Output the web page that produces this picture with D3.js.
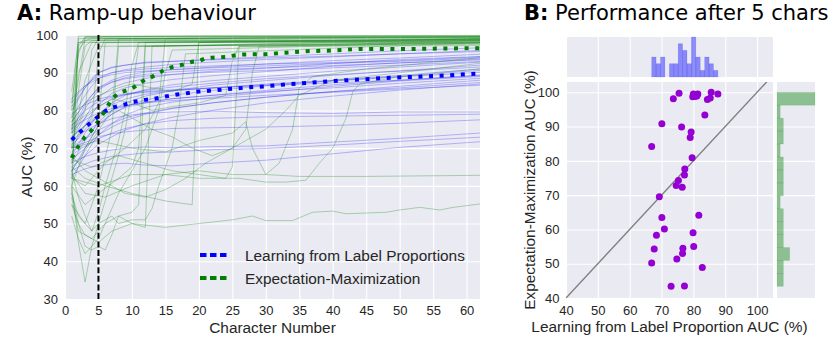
<!DOCTYPE html>
<html>
<head>
<meta charset="utf-8">
<script src="https://cdn.jsdelivr.net/npm/d3@7"></script>
<style>
  body { margin: 0; background: #fff; }
  text { font-family: "Liberation Sans", Arial, sans-serif; fill: #262626; }
  .title { font-family: "DejaVu Sans", sans-serif; font-size: 21px; fill: #000; }
</style>
</head>
<body>
<div id="chart"></div>
<script>
// ---- panel A data: AUC (%) per character number ----
const llpX = [1, 2, 3, 4, 5, 7, 9, 12, 16, 22, 30, 40, 50, 62];
const llpCurves = [
  [80, 83, 86, 88.5, 90, 91.5, 92, 92.8, 93, 93.6, 94.2, 95, 95.8, 96.6],
  [78, 81, 84, 86.5, 88.5, 90, 90.8, 91.5, 92.2, 92.8, 93.5, 94.2, 95, 95.6],
  [75, 78, 81.5, 84, 86, 88, 89.2, 90.2, 90.8, 91.5, 92.3, 93.2, 93.9, 94.9],
  [72, 75, 78, 81, 83.5, 86, 87.3, 88.5, 89.5, 90.4, 91.2, 92.4, 93.5, 94.3],
  [70, 73, 76, 79, 81.5, 84.5, 86, 87.2, 88.2, 89.2, 90.3, 91.7, 92.6, 93.6],
  [83, 85, 86.5, 87.5, 88.5, 89.5, 90, 90.4, 90.8, 91.3, 91.8, 92.5, 93, 93.9],
  [68, 71, 74, 76.5, 79, 82, 84, 85.5, 86.8, 87.9, 89, 90.4, 91.5, 92.8],
  [66, 69, 72, 74.5, 77, 80, 82, 83.8, 85.2, 86.7, 87.9, 89.3, 90.5, 92],
  [74, 76, 78, 79.5, 81, 83, 84.2, 85.3, 86.2, 87.2, 88.4, 89.5, 90.4, 91.5],
  [71, 72.5, 75, 77, 79, 81.5, 83, 84.3, 85.2, 86, 87, 88, 89.3, 91],
  [64, 67, 70, 73, 76, 79, 81, 82.8, 84, 85.3, 86.5, 87.9, 89, 90.6],
  [76, 78, 80, 81.2, 82.3, 83.5, 84.2, 84.8, 85.3, 85.9, 86.8, 87.8, 88.9, 90.1],
  [69, 70.5, 72.5, 74.5, 76.5, 79, 80.8, 82, 83.1, 84, 85.3, 86.8, 88, 89.4],
  [62, 65, 68, 71, 73.5, 76.5, 78.8, 80.8, 82.2, 83.5, 84.8, 86.4, 87.8, 89],
  [73, 74.5, 76, 77, 78.3, 80, 81.2, 82.2, 83.1, 84, 85, 86, 87.2, 88.5],
  [67, 68.5, 70, 71.8, 73.5, 75.6, 77.3, 79, 80.5, 82, 83.5, 85, 86.4, 88],
  [79, 80.5, 81.5, 82.2, 83, 83.8, 84.4, 85, 85.5, 86, 86.6, 87.3, 88, 89.2],
  [70, 71.5, 72.5, 73.5, 74.8, 76.5, 78, 79.3, 80.6, 82, 83.5, 85, 86, 87.4],
  [65, 66.5, 68, 69.5, 71, 73, 74.8, 76.5, 78.2, 80, 82, 83.8, 85.4, 87],
  [77, 79.5, 82, 84, 86, 87.5, 88.4, 89.1, 89.6, 90.1, 90.6, 91.3, 92, 93],
  [81, 83.5, 86, 88, 90, 91.3, 92, 92.6, 93, 93.4, 93.9, 94.4, 95, 95.9],
  [74, 77, 80.5, 83, 85.5, 87.5, 88.7, 89.6, 90.2, 90.8, 91.3, 91.9, 92.6, 93.4],
  [72, 73.5, 74.5, 75.5, 76.5, 77.8, 78.6, 79.2, 79.6, 79.8, 79.4, 79.2, 79.6, 79.6],
  [68, 69.5, 70.5, 71.5, 72.5, 74, 75.2, 76.4, 77.3, 77.9, 78.3, 78.5, 78.7, 79],
  [70, 70.8, 71.5, 72.2, 73, 73.8, 74.3, 74.8, 75.2, 75.4, 75.6, 76, 76.6, 77.5],
  [66, 67, 67.8, 68.3, 68.8, 69.5, 70, 70.3, 70.1, 70.4, 70.6, 71.6, 72.6, 74],
  [64, 65, 65.8, 66.5, 67, 67.8, 68.2, 68.7, 69, 69.6, 69.9, 70.8, 71.8, 72.9],
  [63, 63.8, 64.5, 65, 65.3, 65.8, 66, 65.5, 65.3, 66, 66.8, 68.5, 70.2, 71.7],
  [75, 76.5, 77.5, 78.5, 79.3, 80.5, 81.3, 82, 82.6, 83.2, 84, 84.8, 85.7, 86.7],
  [82, 84.5, 86.5, 88, 89, 90, 90.5, 91, 91.4, 91.8, 92.3, 92.7, 93.2, 94.2]
];

// EM curves as [character, AUC] pairs (they jump, so each keeps its own points)
const emCurves = [
  [[1, 58], [2, 99], [6, 99.5], [20, 99.8], [62, 99.9]],
  [[1, 62], [2, 97], [3, 99.5], [30, 99.6], [62, 99.6]],
  [[1, 70], [2, 98], [4, 99], [30, 99.3], [62, 99.2]],
  [[1, 75], [2, 96], [3, 98.5], [40, 98.9], [62, 98.8]],
  [[1, 80], [2, 99.7], [62, 99.8]],
  [[1, 66], [2, 85], [3, 97], [4, 98.5], [62, 98.5]],
  [[1, 72], [3, 80], [4, 96], [5, 99], [62, 99.4]],
  [[1, 68], [2, 74], [4, 78], [5, 95], [6, 99], [62, 99.6]],
  [[1, 60], [3, 70], [5, 76], [6, 98], [62, 98.2]],
  [[1, 78], [2, 88], [3, 99], [62, 97.8]],
  [[1, 64], [4, 72], [7, 80], [8, 99], [62, 99.5]],
  [[1, 55], [3, 50], [5, 60], [7, 75], [8, 97], [62, 98]],
  [[1, 82], [2, 95], [3, 99.5], [62, 99.7]],
  [[1, 74], [2, 90], [4, 98], [62, 98.6]],
  [[1, 70], [3, 88], [5, 97], [30, 97.3], [62, 97.5]],
  [[1, 85], [2, 98], [62, 98.9]],
  [[1, 60], [3, 55], [5, 58], [8, 62], [10, 65], [11, 70], [12, 98], [62, 98.8]],
  [[1, 57], [2, 48], [4, 46], [6, 50], [8, 52], [10, 50], [12, 49], [13, 97], [62, 99]],
  [[1, 62], [3, 60], [6, 66], [9, 70], [12, 75], [14, 82], [15, 99], [62, 99.3]],
  [[1, 65], [3, 62], [6, 60], [10, 58], [15, 56], [19, 55], [20, 98], [62, 98.4]],
  [[1, 67], [4, 65], [8, 68], [12, 66], [16, 64], [20, 63], [24, 62], [25, 65], [26, 97], [62, 97.8]],
  [[1, 70], [5, 72], [10, 70], [15, 69], [20, 72], [25, 74], [27, 77], [28, 70], [30, 63], [32, 66], [34, 75], [35, 86], [37, 89], [45, 91], [62, 94]],
  [[1, 62], [5, 60], [10, 63], [15, 63], [20, 62], [26, 62], [30, 61], [33, 61], [36, 61.5], [38, 66], [40, 70], [42, 78], [43, 85], [44, 87], [50, 89], [62, 91]],
  [[1, 58], [2, 50], [3, 47], [5, 45], [7, 48], [10, 50], [15, 49], [20, 50], [25, 51], [28, 52], [30, 50.8], [34, 50.8], [37, 53], [40, 53.3], [42, 52.6], [45, 52.8], [48, 53], [50, 53.6], [53, 54.3], [56, 53.6], [58, 54.3], [62, 55.2]],
  [[1, 63], [3, 58], [6, 57], [10, 60], [15, 63], [20, 64], [25, 63], [30, 63], [35, 62.5], [45, 62.5], [62, 62.8]],
  [[1, 60], [2, 45], [3, 34.5], [4, 44], [5, 50], [6, 56], [7, 62], [8, 68], [9, 75], [10, 85], [11, 97], [62, 98]],
  [[1, 55], [2, 50], [3, 44], [4, 43], [5, 44], [6, 43], [7, 47], [8, 52], [10, 53], [11, 55], [12, 97], [62, 98.6]],
  [[1, 58], [2, 52], [4, 48], [5, 50], [7, 52], [8, 50], [10, 51], [12, 51], [13, 54], [14, 60], [16, 70], [17, 80], [18, 95], [62, 98]],
  [[1, 52], [2, 46], [3, 42], [5, 46], [6, 50], [8, 58], [10, 64], [12, 70], [14, 80], [15, 90], [16, 96], [62, 98.2]],
  [[1, 73], [3, 76], [5, 79], [8, 80], [10, 78], [13, 75], [16, 73], [19, 70], [22, 68], [25, 70], [27, 75], [28, 90], [29, 97], [62, 98.5]],
  [[1, 77], [3, 82], [5, 84], [8, 86], [10, 87], [13, 86], [16, 85], [19, 87], [20, 98], [62, 99]],
  [[1, 76], [4, 80], [7, 83], [10, 82], [13, 80], [16, 81], [20, 82], [24, 84], [25, 93], [26, 97], [62, 97.2]],
  [[1, 68], [3, 64], [5, 62], [7, 60], [9, 58], [12, 57], [15, 59], [18, 62], [21, 66], [24, 69], [27, 72], [30, 75], [33, 80], [35, 84], [40, 88], [50, 90], [62, 92.5]],
  [[1, 64], [2, 57], [3, 52], [4, 48], [5, 53], [6, 60], [7, 66], [8, 72], [9, 80], [10, 92], [11, 98], [62, 99.1]]
];

// mean curves
const meanX = [1, 2, 3, 4, 5, 6, 7, 8, 9, 10, 11, 12, 13, 14, 15, 16, 17, 18, 19, 20, 21, 22, 24, 26, 28, 30, 33, 36, 40, 44, 48, 52, 56, 60, 62];
const llpMean = [72.2, 73.9, 75.5, 77, 78.4, 79.8, 80.7, 81.2, 81.6, 82.2, 82.5, 82.8, 83, 83.3, 83.7, 84, 84.3, 84.5, 84.8, 85, 85.1, 85.3, 85.6, 85.9, 86.2, 86.4, 86.9, 87.3, 87.8, 88.2, 88.6, 88.9, 89.2, 89.6, 89.8];
const emMean = [67.4, 70.5, 73, 74.8, 77.2, 80, 83, 84.6, 85.2, 85.8, 87, 88.2, 88.9, 89.9, 90.9, 91.5, 91.9, 92.3, 92.9, 93.1, 93.8, 94, 94.2, 94.8, 94.9, 94.9, 95.3, 95.7, 95.9, 96.3, 96.3, 96.3, 96.4, 96.5, 96.5];

const xTicksA = d3.range(0, 61, 5);
const yTicksA = d3.range(30, 101, 10);
const cutoffChar = 5;
const legendLabels = ["Learning from Label Proportions", "Expectation-Maximization"];

// ---- panel B data: AUC after 5 characters ----
const llpAuc5 = [73.7, 75.5, 80.0, 79.8, 80.8, 81.4, 81.1, 80.5, 85.6, 84.4, 85.3, 87.7, 83.6, 70.1, 76.3, 79.3, 79.0, 66.9, 79.6, 77.3, 77.2, 75.3, 74.6, 76.5, 69.3, 70.1, 81.7, 70.9, 68.4, 79.9, 67.7, 76.7, 80.1, 76.6, 74.8, 66.9, 82.8, 73.0, 77.2];
const emAuc5 = [98.1, 99.7, 99.5, 98.7, 99.3, 99.5, 98.9, 98.8, 100, 97.9, 98.3, 99.5, 93.4, 90.8, 89.9, 88.4, 86.8, 84.2, 80.9, 77.6, 75.9, 74.3, 72.8, 72.3, 69.5, 63.5, 64.1, 60.1, 58.3, 59.0, 54.3, 54.5, 55.0, 53.0, 51.4, 50.2, 48.9, 43.4, 43.5];
const llpHistRange = [66.9, 87.7];
const llpHistCounts = [3, 2, 3, 0, 2, 2, 5, 4, 2, 6, 3, 1, 3, 2, 1];
const emHistRange = [43.4, 100];
const emHistCounts = [2, 2, 4, 2, 2, 2, 1, 2, 2, 2, 1, 2, 2, 1, 12];
const ticksB = d3.range(40, 101, 10);

const W = 830, H = 355;
const BG = "#EAEAF2";

const svg = d3.select("#chart").append("svg")
  .attr("width", W).attr("height", H);

function styleAxis(g) {
  g.select(".domain").remove();
  g.selectAll(".tick line").attr("stroke", "#fff").attr("stroke-width", 1.1);
  g.selectAll(".tick text").attr("font-size", 13).attr("fill", "#262626")
    .attr("font-family", '"Liberation Sans", Arial, sans-serif');
  g.attr("font-family", null).attr("font-size", null);
}

// ================= Panel A =================
const xA = d3.scaleLinear().domain([0, 62]).range([65, 480]);
const yA = d3.scaleLinear().domain([30, 100]).range([299, 35]);

svg.append("rect")
  .attr("x", xA(0)).attr("y", yA(100))
  .attr("width", xA(62) - xA(0)).attr("height", yA(30) - yA(100))
  .attr("fill", BG);

svg.append("g")
  .attr("transform", `translate(0,${yA(30)})`)
  .call(d3.axisBottom(xA).tickValues(xTicksA).tickSize(-(yA(30) - yA(100))).tickPadding(7))
  .call(styleAxis);

svg.append("g")
  .attr("transform", `translate(${xA(0)},0)`)
  .call(d3.axisLeft(yA).tickValues(yTicksA).tickSize(-(xA(62) - xA(0))).tickPadding(7))
  .call(styleAxis);

svg.append("clipPath").attr("id", "clipA")
  .append("rect")
  .attr("x", xA(0)).attr("y", yA(100) - 2)
  .attr("width", xA(62) - xA(0)).attr("height", yA(30) - yA(100) + 2);

const plotA = svg.append("g").attr("clip-path", "url(#clipA)");

const lineA = d3.line()
  .x(d => xA(d[0]))
  .y(d => yA(d[1]));

// thin LLP curves
plotA.selectAll(".llp")
  .data(llpCurves)
  .join("path")
  .attr("fill", "none")
  .attr("stroke", "#0000ff")
  .attr("stroke-opacity", 0.32)
  .attr("stroke-width", 0.8)
  .attr("d", c => lineA(c.map((v, i) => [llpX[i], v])));

// thin EM curves
plotA.selectAll(".em")
  .data(emCurves)
  .join("path")
  .attr("fill", "none")
  .attr("stroke", "#008000")
  .attr("stroke-opacity", 0.33)
  .attr("stroke-width", 0.9)
  .attr("d", lineA);

// cut-off marker at 5 characters
svg.append("line")
  .attr("x1", xA(cutoffChar)).attr("x2", xA(cutoffChar))
  .attr("y1", yA(30)).attr("y2", yA(100))
  .attr("stroke", "#000")
  .attr("stroke-width", 2)
  .attr("stroke-dasharray", "6,2.6");

// mean curves (thick dotted)
const means = [
  { vals: llpMean, color: "#0000ff" },
  { vals: emMean, color: "#008000" }
];
plotA.selectAll(".mean")
  .data(means)
  .join("path")
  .attr("fill", "none")
  .attr("stroke", d => d.color)
  .attr("stroke-width", 4)
  .attr("stroke-dasharray", "4,6.6")
  .attr("d", d => lineA(d.vals.map((v, i) => [meanX[i], v])));

// legend
const legend = svg.append("g");
means.forEach((m, i) => {
  const ly = 255 + i * 23;
  legend.append("line")
    .attr("x1", 200).attr("x2", 227)
    .attr("y1", ly).attr("y2", ly)
    .attr("stroke", m.color)
    .attr("stroke-width", 4)
    .attr("stroke-dasharray", "6.5,3.5");
  legend.append("text")
    .attr("x", 245).attr("y", ly + 5.5)
    .attr("font-size", 15.4)
    .text(legendLabels[i]);
});

// labels
svg.append("text")
  .attr("x", (xA(0) + xA(62)) / 2).attr("y", 333)
  .attr("text-anchor", "middle").attr("font-size", 15.4)
  .text("Character Number");

svg.append("text")
  .attr("transform", `translate(32,${(yA(30) + yA(100)) / 2}) rotate(-90)`)
  .attr("text-anchor", "middle").attr("font-size", 15.4)
  .text("AUC (%)");

const titleA = svg.append("text").attr("class", "title").attr("x", 17).attr("y", 20);
titleA.append("tspan").attr("font-weight", "bold").text("A:");
titleA.append("tspan").text(" Ramp-up behaviour");

// ================= Panel B =================
const xB = d3.scaleLinear().domain([40, 105]).range([566, 773]);
const yB = d3.scaleLinear().domain([40, 103]).range([298, 82]);

svg.append("rect")
  .attr("x", xB(40)).attr("y", yB(103))
  .attr("width", xB(105) - xB(40)).attr("height", yB(40) - yB(103))
  .attr("fill", BG);

svg.append("g")
  .attr("transform", `translate(0,${yB(40)})`)
  .call(d3.axisBottom(xB).tickValues(ticksB).tickSize(-(yB(40) - yB(103))).tickPadding(8))
  .call(styleAxis);

svg.append("g")
  .attr("transform", `translate(${xB(40)},0)`)
  .call(d3.axisLeft(yB).tickValues(ticksB).tickSize(-(xB(105) - xB(40))).tickPadding(6.5))
  .call(styleAxis);

svg.append("clipPath").attr("id", "clipB")
  .append("rect")
  .attr("x", xB(40)).attr("y", yB(103))
  .attr("width", xB(105) - xB(40)).attr("height", yB(40) - yB(103));

// identity line
svg.append("line")
  .attr("clip-path", "url(#clipB)")
  .attr("x1", xB(40)).attr("y1", yB(40))
  .attr("x2", xB(105)).attr("y2", yB(105))
  .attr("stroke", "#808080")
  .attr("stroke-width", 1.4);

svg.append("g").selectAll("circle")
  .data(llpAuc5.map((v, i) => [v, emAuc5[i]]))
  .join("circle")
  .attr("cx", d => xB(d[0]))
  .attr("cy", d => yB(d[1]))
  .attr("r", 3.5)
  .attr("fill", "#9400D3");

// top marginal histogram (LLP)
const yTop = d3.scaleLinear().domain([0, 6]).range([77, 37]);
svg.append("rect")
  .attr("x", xB(40)).attr("y", yTop(6))
  .attr("width", xB(105) - xB(40)).attr("height", yTop(0) - yTop(6))
  .attr("fill", BG);
svg.append("g")
  .attr("transform", `translate(0,${yTop(0)})`)
  .call(d3.axisBottom(xB).tickValues(ticksB).tickSize(-(yTop(0) - yTop(6))).tickFormat(""))
  .call(styleAxis);

const llpBinW = (llpHistRange[1] - llpHistRange[0]) / llpHistCounts.length;
svg.append("g").selectAll("rect")
  .data(llpHistCounts)
  .join("rect")
  .attr("x", (d, i) => xB(llpHistRange[0] + i * llpBinW))
  .attr("width", xB(llpHistRange[0] + llpBinW) - xB(llpHistRange[0]))
  .attr("y", d => yTop(d))
  .attr("height", d => yTop(0) - yTop(d))
  .attr("fill", "#0000ff").attr("fill-opacity", 0.42)
  .attr("stroke", "#0000ff").attr("stroke-opacity", 0.12).attr("stroke-width", 0.8);

// right marginal histogram (EM)
const xRight = d3.scaleLinear().domain([0, 12]).range([777, 815]);
svg.append("rect")
  .attr("x", xRight(0)).attr("y", yB(103))
  .attr("width", xRight(12) - xRight(0)).attr("height", yB(40) - yB(103))
  .attr("fill", BG);
svg.append("g")
  .attr("transform", `translate(${xRight(0)},0)`)
  .call(d3.axisLeft(yB).tickValues(ticksB).tickSize(-(xRight(12) - xRight(0))).tickFormat(""))
  .call(styleAxis);

const emBinW = (emHistRange[1] - emHistRange[0]) / emHistCounts.length;
svg.append("g").selectAll("rect")
  .data(emHistCounts)
  .join("rect")
  .attr("x", xRight(0))
  .attr("width", d => xRight(d) - xRight(0))
  .attr("y", (d, i) => yB(emHistRange[0] + (i + 1) * emBinW))
  .attr("height", yB(emHistRange[0]) - yB(emHistRange[0] + emBinW))
  .attr("fill", "#008000").attr("fill-opacity", 0.4)
  .attr("stroke", "#008000").attr("stroke-opacity", 0.12).attr("stroke-width", 0.8);

// labels
svg.append("text")
  .attr("x", (xB(40) + xB(105)) / 2).attr("y", 332)
  .attr("text-anchor", "middle").attr("font-size", 15.4)
  .text("Learning from Label Proportion AUC (%)");

svg.append("text")
  .attr("transform", `translate(535,${(yB(40) + yB(103)) / 2}) rotate(-90)`)
  .attr("text-anchor", "middle").attr("font-size", 15.4)
  .text("Expectation-Maximization AUC (%)");

const titleB = svg.append("text").attr("class", "title").attr("x", 524).attr("y", 20);
titleB.append("tspan").attr("font-weight", "bold").text("B:");
titleB.append("tspan").text(" Performance after 5 chars");
</script>
</body>
</html>
